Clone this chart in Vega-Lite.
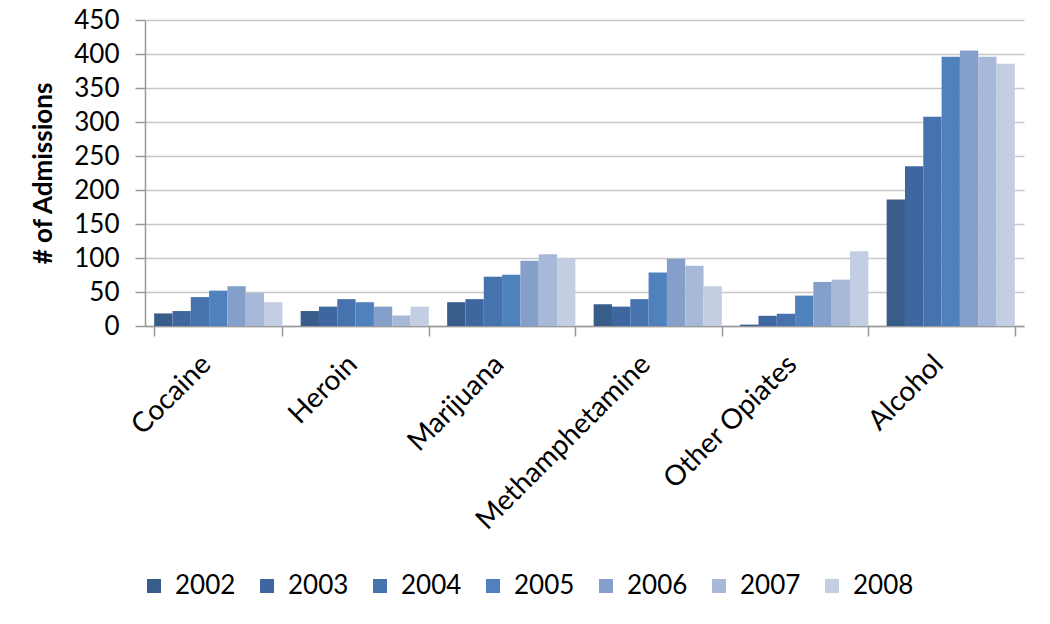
{
  "$schema": "https://vega.github.io/schema/vega-lite/v6.json",
  "autosize": "none",
  "width": 879,
  "height": 306,
  "padding": {"left": 145, "top": 20, "right": 26, "bottom": 298},
  "background": "white",
  "config": {"view": {"stroke": null}, "font": "Lato"},
  "data": {"values": [
    {"drug": "Cocaine", "year": "2002", "n": 18.5},
    {"drug": "Cocaine", "year": "2003", "n": 22},
    {"drug": "Cocaine", "year": "2004", "n": 42.5},
    {"drug": "Cocaine", "year": "2005", "n": 52},
    {"drug": "Cocaine", "year": "2006", "n": 58.5},
    {"drug": "Cocaine", "year": "2007", "n": 48.5},
    {"drug": "Cocaine", "year": "2008", "n": 35},
    {"drug": "Heroin", "year": "2002", "n": 22},
    {"drug": "Heroin", "year": "2003", "n": 28.5},
    {"drug": "Heroin", "year": "2004", "n": 39.5},
    {"drug": "Heroin", "year": "2005", "n": 35},
    {"drug": "Heroin", "year": "2006", "n": 28.5},
    {"drug": "Heroin", "year": "2007", "n": 15.5},
    {"drug": "Heroin", "year": "2008", "n": 28.5},
    {"drug": "Marijuana", "year": "2002", "n": 35},
    {"drug": "Marijuana", "year": "2003", "n": 39.5},
    {"drug": "Marijuana", "year": "2004", "n": 72.5},
    {"drug": "Marijuana", "year": "2005", "n": 75.5},
    {"drug": "Marijuana", "year": "2006", "n": 96},
    {"drug": "Marijuana", "year": "2007", "n": 105.5},
    {"drug": "Marijuana", "year": "2008", "n": 99},
    {"drug": "Methamphetamine", "year": "2002", "n": 32},
    {"drug": "Methamphetamine", "year": "2003", "n": 28.5},
    {"drug": "Methamphetamine", "year": "2004", "n": 39.5},
    {"drug": "Methamphetamine", "year": "2005", "n": 78.5},
    {"drug": "Methamphetamine", "year": "2006", "n": 99},
    {"drug": "Methamphetamine", "year": "2007", "n": 88.5},
    {"drug": "Methamphetamine", "year": "2008", "n": 58.5},
    {"drug": "Other Opiates", "year": "2002", "n": 2},
    {"drug": "Other Opiates", "year": "2003", "n": 15},
    {"drug": "Other Opiates", "year": "2004", "n": 18},
    {"drug": "Other Opiates", "year": "2005", "n": 44.7},
    {"drug": "Other Opiates", "year": "2006", "n": 64.8},
    {"drug": "Other Opiates", "year": "2007", "n": 68.2},
    {"drug": "Other Opiates", "year": "2008", "n": 110},
    {"drug": "Alcohol", "year": "2002", "n": 186},
    {"drug": "Alcohol", "year": "2003", "n": 235},
    {"drug": "Alcohol", "year": "2004", "n": 307.7},
    {"drug": "Alcohol", "year": "2005", "n": 396},
    {"drug": "Alcohol", "year": "2006", "n": 405.3},
    {"drug": "Alcohol", "year": "2007", "n": 396},
    {"drug": "Alcohol", "year": "2008", "n": 385.7}
  ]},
  "mark": {"type": "bar"},
  "encoding": {
    "x": {
      "field": "drug", "type": "nominal", "sort": null,
      "scale": {"paddingInner": 0.125, "paddingOuter": 0.0625},
      "axis": {
        "title": null, "labelAngle": -45, "labelAlign": "right", "labelBaseline": "middle",
        "labelFontSize": 28, "labelColor": "black", "labelPadding": 24, "labelOffset": -12, "labelLimit": 400,
        "tickBand": "extent", "tickSize": 10, "tickColor": "#999", "domainColor": "#999", "domainWidth": 1.5, "tickWidth": 1.5
      }
    },
    "xOffset": {"field": "year", "type": "nominal", "scale": {"paddingInner": 0, "paddingOuter": 0}},
    "y": {
      "field": "n", "type": "quantitative",
      "scale": {"domain": [0, 450], "nice": false},
      "axis": {
        "title": "# of Admissions", "titleFontSize": 26, "titleFontWeight": "bold", "titleColor": "black",
        "titlePadding": 17,
        "values": [0, 50, 100, 150, 200, 250, 300, 350, 400, 450],
        "labelFontSize": 26, "labelColor": "black", "labelPadding": 16,
        "tickSize": 10, "tickColor": "#999", "domainColor": "#999", "domainWidth": 1.5, "tickWidth": 1.5,
        "grid": true, "gridColor": "#c8c8c8", "gridWidth": 1.5
      }
    },
    "color": {
      "field": "year", "type": "nominal",
      "scale": {"range": ["#385D8A", "#3E67A0", "#4672AD", "#4F81BD", "#859FCB", "#A8B8D8", "#C4CEE3"]},
      "legend": {
        "title": null, "orient": "none", "direction": "horizontal", "legendX": -4, "legendY": 553,
        "symbolType": "square", "symbolSize": 196, "symbolStrokeWidth": 0, "labelFontSize": 26, "labelColor": "black",
        "labelOffset": 8, "columnPadding": 18
      }
    }
  }
}
